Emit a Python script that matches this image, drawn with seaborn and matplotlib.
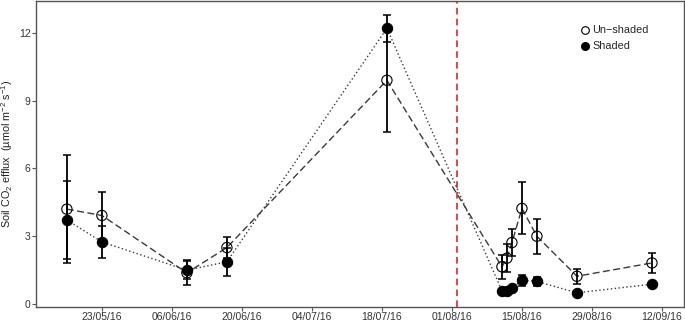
import matplotlib
matplotlib.use('Agg')
import matplotlib.pyplot as plt
import matplotlib.dates as mdates
from matplotlib.lines import Line2D
import seaborn as sns
import pandas as pd

# Sampling dates and mean soil CO2 efflux (umol m-2 s-1) with error bars
dates = ['2016-05-16', '2016-05-23', '2016-06-09', '2016-06-17', '2016-07-19',
         '2016-08-11', '2016-08-12', '2016-08-13', '2016-08-15', '2016-08-18',
         '2016-08-26', '2016-09-10']
unshaded = [4.2, 3.92, 1.38, 2.5, 9.9, 1.65, 2.03, 2.72, 4.23, 3.0, 1.23, 1.82]
unshaded_err = [2.4, 1.04, 0.55, 0.45, 2.3, 0.52, 0.63, 0.6, 1.15, 0.78, 0.33, 0.43]
shaded = [3.72, 2.75, 1.5, 1.87, 12.2, 0.59, 0.59, 0.7, 1.06, 1.0, 0.5, 0.88]
shaded_err = [1.72, 0.72, 0.4, 0.63, 0.6, 0.05, 0.05, 0.05, 0.24, 0.2, 0.05, 0.05]
shading_start = '2016-08-02'
tick_dates = ['2016-05-23', '2016-06-06', '2016-06-20', '2016-07-04',
              '2016-07-18', '2016-08-01', '2016-08-15', '2016-08-29', '2016-09-12']

df = pd.DataFrame({
    'Date': pd.to_datetime(dates * 2),
    'Efflux': unshaded + shaded,
    'Err': unshaded_err + shaded_err,
    'Treatment': ['Un-shaded'] * len(dates) + ['Shaded'] * len(dates),
})

sns.set_style('white')
plt.rcParams['font.family'] = ['Liberation Sans', 'DejaVu Sans']
plt.rcParams['mathtext.fontset'] = 'custom'
plt.rcParams['mathtext.rm'] = 'Liberation Sans'
plt.rcParams['mathtext.it'] = 'Liberation Sans:italic'

fig = plt.figure(figsize=(6.85, 3.21), dpi=100)
ax = fig.add_axes([0.0526, 0.045, 0.946, 0.952])

line_col = '#3a3a3a'
sns.lineplot(data=df, x='Date', y='Efflux', style='Treatment',
             dashes={'Un-shaded': (5, 2.5), 'Shaded': (1, 1.8)},
             color=line_col, linewidth=1.0, legend=False, ax=ax)

for name, sub in df.groupby('Treatment'):
    ax.errorbar(sub['Date'], sub['Efflux'], yerr=sub['Err'], fmt='none',
                ecolor='black', elinewidth=1.3, capsize=3, capthick=1.1, zorder=3)

sns.scatterplot(data=df[df.Treatment == 'Shaded'], x='Date', y='Efflux',
                color='black', edgecolor='black', s=55, linewidth=0.8,
                legend=False, ax=ax, zorder=4)
sns.scatterplot(data=df[df.Treatment == 'Un-shaded'], x='Date', y='Efflux',
                facecolor='none', edgecolor='black', s=55, linewidth=0.8,
                legend=False, ax=ax, zorder=5)

ax.axvline(pd.Timestamp(shading_start), color='#d62a2a', linestyle=(0, (4, 2.5)),
           linewidth=1.2, zorder=1)

ax.set_xlim(pd.Timestamp('2016-05-09 20:00'), pd.Timestamp('2016-09-16 10:00'))
ax.set_ylim(-0.11, 13.41)
ax.set_yticks([0, 3, 6, 9, 12])
ax.set_xticks(pd.to_datetime(tick_dates))
ax.xaxis.set_major_formatter(mdates.DateFormatter('%d/%m/%y'))

ax.set_xlabel('')
ax.set_ylabel('Soil CO$_2$ efflux  (µmol m$^{-2}$ s$^{-1}$)',
              fontsize=7.8, color='#222222')
ax.yaxis.set_label_coords(-0.033, 0.5)
ax.tick_params(axis='both', direction='out', length=3, width=0.8,
               color='#555555', labelsize=7.5, labelcolor='#333333',
               bottom=True, left=True, pad=1.0)
for sp in ax.spines.values():
    sp.set_color('#555555')
    sp.set_linewidth(1.0)

handles = [
    Line2D([], [], marker='o', linestyle='none', markerfacecolor='none',
           markeredgecolor='black', markersize=5.5, markeredgewidth=0.8),
    Line2D([], [], marker='o', linestyle='none', markerfacecolor='black',
           markeredgecolor='black', markersize=5.5),
]
ax.legend(handles, ['Un\u2212shaded', 'Shaded'], loc='upper left',
          bbox_to_anchor=(0.823, 0.952), frameon=False, fontsize=7.8,
          handletextpad=0.2, labelspacing=0.55, handlelength=1.0)

plt.savefig('out.png', dpi=100)
